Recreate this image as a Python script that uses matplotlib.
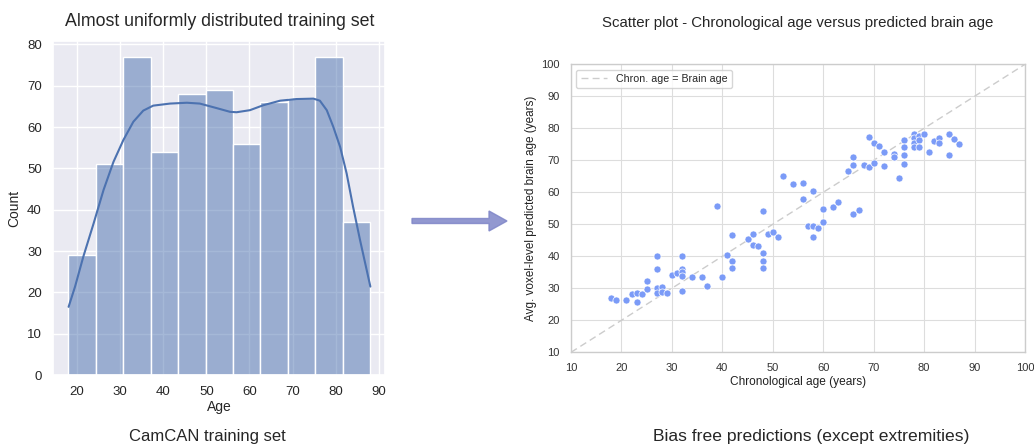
import numpy as np
import matplotlib
matplotlib.use('Agg')
import matplotlib.pyplot as plt
import seaborn as sns

# histogram of the CamCAN training ages (11 bins, 18..88)
age_range = (18, 88)
n_bins = 11
bin_counts = [29, 51, 77, 54, 68, 69, 56, 66, 67, 77, 37]

# kde curve
kde_x = [18.1, 19.6, 21.5, 23.9, 26.2, 28.5, 30.8, 33.1, 35.4, 37.7, 41.6, 45.5,
         48.5, 52.4, 55.5, 57.0, 60.1, 63.2, 67.1, 70.9, 74.8, 76.3, 77.9, 79.4,
         81.0, 82.5, 84.0, 85.6, 88.0]
kde_y = [16.5, 21.4, 28.6, 36.7, 44.8, 51.6, 56.9, 61.3, 64.0, 65.2, 65.7, 65.9,
         65.7, 64.6, 63.7, 63.6, 64.1, 65.3, 66.4, 66.8, 66.9, 66.4, 64.1, 60.1,
         55.2, 48.8, 40.7, 32.7, 21.4]

# scatter: chronological age vs predicted brain age
chron_age = [18, 19, 21, 22, 23, 23, 24, 25, 25, 27, 27, 27, 27, 28, 28, 29, 30, 31,
             32, 32, 32, 32, 32, 34, 36, 37, 39, 40, 41, 42, 42, 42, 45, 46, 46, 47,
             48, 48, 48, 48, 49, 50, 51, 52, 54, 56, 56, 57, 58, 58, 58, 59, 60, 60,
             62, 63, 65, 66, 66, 66, 67, 68, 69, 69, 70, 70, 71, 72, 72, 74, 74, 75,
             76, 76, 76, 76, 78, 78, 78, 78, 79, 79, 79, 80, 81, 82, 83, 83, 85, 85,
             86, 87]
brain_age = [26.9, 26.4, 26.3, 28.3, 28.6, 25.6, 28.3, 32.2, 29.9, 40.2, 36.0, 30.1,
             28.6, 30.5, 29.0, 28.6, 34.3, 34.9, 40.0, 36.0, 35.2, 33.9, 29.1, 33.6,
             33.6, 30.6, 55.8, 33.5, 40.4, 46.6, 38.4, 36.5, 45.3, 47.1, 43.5, 43.3,
             54.1, 40.9, 38.4, 36.5, 47.1, 47.7, 46.0, 65.1, 62.7, 63.0, 57.9, 49.4,
             60.3, 49.4, 46.0, 49.0, 54.9, 50.6, 55.3, 57.0, 66.6, 70.9, 68.6, 53.1,
             54.6, 68.6, 77.2, 67.9, 75.4, 69.2, 74.6, 72.7, 68.3, 72.0, 71.0, 64.6,
             76.3, 74.1, 71.6, 68.8, 78.1, 77.0, 75.5, 74.2, 77.5, 76.4, 74.2, 78.2,
             72.5, 76.0, 77.0, 75.5, 78.3, 71.6, 76.8, 75.2]

sns.set_theme(style='darkgrid')
plt.rcParams['font.family'] = ['Liberation Sans', 'DejaVu Sans']

fig = plt.figure(figsize=(10.34, 4.44), dpi=100)

# 左图：训练集年龄分布
ax1 = fig.add_axes([0.0513, 0.1554, 0.3215, 0.7523])
edges = np.linspace(age_range[0], age_range[1], n_bins + 1)
centers = (edges[:-1] + edges[1:]) / 2
sns.histplot(x=centers, weights=np.array(bin_counts, dtype=float), bins=n_bins,
             binrange=age_range, ax=ax1, color='#4c72b0', alpha=0.5)
ax1.plot(kde_x, kde_y, color='#4c72b0', lw=1.5)
ax1.set_xlim(14.5, 91.5)
ax1.set_ylim(0, 80.85)
ax1.set_xlabel('Age', fontsize=10, labelpad=1)
ax1.set_ylabel('Count', fontsize=10, labelpad=4)
ax1.tick_params(labelsize=9.5, pad=2)
ax1.set_xticks(np.arange(20, 91, 10))
ax1.set_title('Almost uniformly distributed training set', fontsize=12.8, pad=11)

# 右图：散点图
ax2 = fig.add_axes([0.5522, 0.2065, 0.4391, 0.6487])
ax2.set_facecolor('white')
ax2.plot([10, 100], [10, 100], ls='--', color='#cccccc', lw=1, dashes=(5, 3),
         label='Chron. age = Brain age', zorder=2)
ax2.scatter(chron_age, brain_age, s=26, color='#7b9bf7', edgecolor='white',
            linewidth=0.5, zorder=3)
ax2.set_xlim(10, 100)
ax2.set_ylim(10, 100)
ax2.set_xticks(np.arange(10, 101, 10))
ax2.set_yticks(np.arange(10, 101, 10))
ax2.grid(True, color='#dddddd', lw=0.8)
for sp in ax2.spines.values():
    sp.set_color('#cccccc')
    sp.set_linewidth(1)
ax2.tick_params(labelsize=8, pad=2, colors='#333333')
ax2.set_xlabel('Chronological age (years)', fontsize=8.6, labelpad=2, color='#222222')
ax2.set_ylabel('Avg. voxel-level predicted brain age (years)', fontsize=8.5,
               labelpad=3, color='#222222')
ax2.set_title('Scatter plot - Chronological age versus predicted brain age',
              fontsize=10.8, pad=27)
ax2.legend(loc='upper left', fontsize=7.7, frameon=True, facecolor='white',
           edgecolor='#cccccc', fancybox=True, handlelength=2.5)

# 箭头
fig.patches.append(matplotlib.patches.FancyArrow(
    412 / 1034, 1 - 221 / 444, 95 / 1034, 0, width=5 / 444, head_width=20 / 444,
    head_length=18 / 1034, length_includes_head=True, color='#7f86c8', alpha=0.85,
    transform=fig.transFigure, figure=fig))

# 底部说明
fig.text(207 / 1034, 1 - 436 / 444, 'CamCAN training set', ha='center', va='center',
         fontsize=12)
fig.text(811 / 1034, 1 - 436 / 444, 'Bias free predictions (except extremities)',
         ha='center', va='center', fontsize=12.6)

plt.savefig('out.png', dpi=100)
plt.close()
